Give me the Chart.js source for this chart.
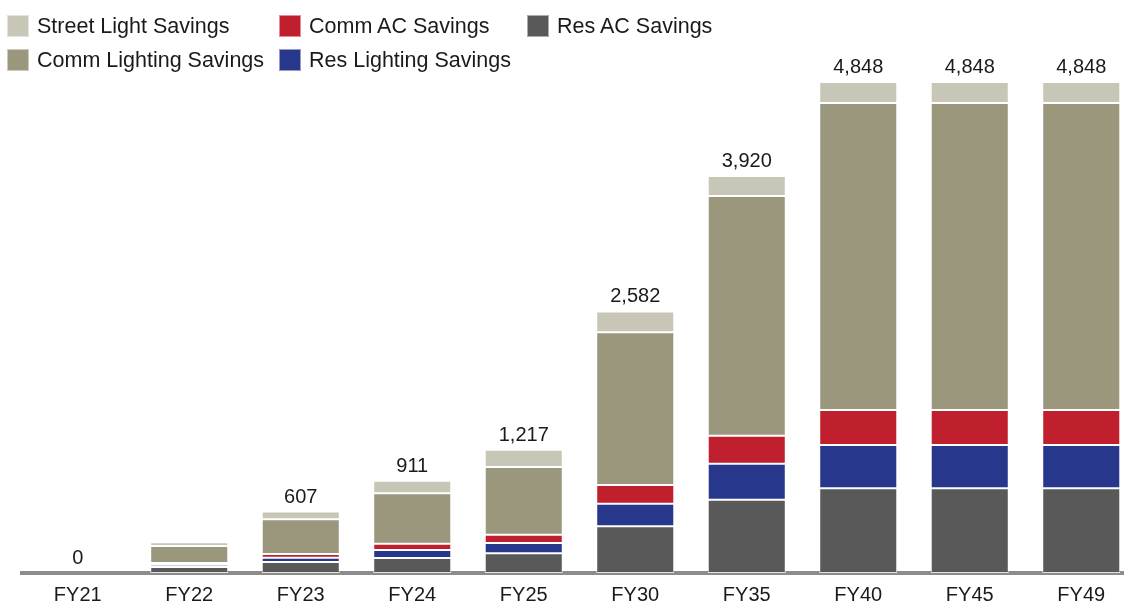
<!DOCTYPE html>
<html>
<head>
<meta charset="utf-8">
<script src="https://cdn.jsdelivr.net/npm/chart.js@4/dist/chart.umd.min.js"></script>
<style>
  html, body { margin: 0; padding: 0; background: #fff; overflow: hidden; }
  #wrap { position: relative; width: 1140px; height: 601px; }
  #legenda {
    position: absolute; left: 7px; top: 15px;
    display: grid; grid-template-columns: 272px 248px auto; row-gap: 12px;
    font: 21.5px "Liberation Sans", Arial, sans-serif; color: #1a1a1a;
  }
  .item { display: flex; align-items: center; height: 22px; white-space: nowrap; }
  .caixa { width: 22px; height: 22px; margin-right: 8px; box-sizing: border-box; border: 1px solid rgba(255,255,255,0.5); }
</style>
</head>
<body>
<div id="wrap">
  <canvas id="savings-chart" width="1140" height="601"></canvas>
  <div id="legenda"></div>
</div>
<script>
// Dados
const categorias = ["FY21", "FY22", "FY23", "FY24", "FY25", "FY30", "FY35", "FY40", "FY45", "FY49"];
const resAc = [0, 59, 109, 148, 194, 461, 724, 836, 836, 836];
const resLighting = [0, 23, 42, 79, 102, 223, 355, 428, 428, 428];
const commAc = [0, 17, 37, 62, 82, 185, 276, 345, 345, 345];
const commLighting = [0, 168, 342, 498, 668, 1507, 2367, 3031, 3031, 3031];
const streetLight = [0, 36, 77, 124, 171, 206, 198, 208, 208, 208];
const totais = [0, null, 607, 911, 1217, 2582, 3920, 4848, 4848, 4848];

const FONTE = '"Liberation Sans", Arial, sans-serif';

// Séries de baixo para cima na pilha
const series = [
  { label: "Res AC Savings", data: resAc, cor: "#595959" },
  { label: "Res Lighting Savings", data: resLighting, cor: "#27378c" },
  { label: "Comm AC Savings", data: commAc, cor: "#c01f2e" },
  { label: "Comm Lighting Savings", data: commLighting, cor: "#9a977d" },
  { label: "Street Light Savings", data: streetLight, cor: "#c8c6b7" },
];

// Ordem da legenda (3 colunas)
const ordemLegenda = ["Street Light Savings", "Comm AC Savings", "Res AC Savings", "Comm Lighting Savings", "Res Lighting Savings"];

// Plugin para escrever o total em cima de cada barra
const pluginTotais = {
  id: "totais",
  afterDatasetsDraw(chart) {
    const ctx = chart.ctx;
    const meta = chart.getDatasetMeta(chart.data.datasets.length - 1);
    ctx.save();
    ctx.font = `20px ${FONTE}`;
    ctx.fillStyle = "#1a1a1a";
    ctx.textAlign = "center";
    ctx.textBaseline = "alphabetic";
    meta.data.forEach((bar, i) => {
      if (totais[i] === null) return;
      ctx.fillText(totais[i].toLocaleString("en-US"), bar.x, bar.y - 9);
    });
    ctx.restore();
  },
};

function montarLegenda(chart) {
  const el = document.getElementById("legenda");
  ordemLegenda.forEach((nome) => {
    const ds = chart.data.datasets.find((d) => d.label === nome);
    const item = document.createElement("div");
    item.className = "item";
    const caixa = document.createElement("span");
    caixa.className = "caixa";
    caixa.style.background = ds.backgroundColor;
    const texto = document.createElement("span");
    texto.textContent = nome;
    item.appendChild(caixa);
    item.appendChild(texto);
    el.appendChild(item);
  });
}

const ctx = document.getElementById("savings-chart").getContext("2d");
const grafico = new Chart(ctx, {
  type: "bar",
  data: {
    labels: categorias,
    datasets: series.map((s) => ({
      label: s.label,
      data: s.data,
      backgroundColor: s.cor,
      borderColor: "rgba(255,255,255,0.75)",
      borderWidth: 1,
      borderSkipped: false,
      barPercentage: 0.7,
      categoryPercentage: 1.0,
    })),
  },
  options: {
    responsive: false,
    animation: false,
    layout: { padding: { top: 26, left: 22, right: 3, bottom: 0 } },
    plugins: {
      legend: { display: false },
      tooltip: { enabled: false },
    },
    scales: {
      x: {
        stacked: true,
        z: 1,
        grid: { display: false },
        border: { display: true, color: "#8c8c8c", width: 4 },
        ticks: { color: "#1a1a1a", font: { family: FONTE, size: 20 }, padding: 2 },
        afterFit: (scale) => { scale.height = 28; },
      },
      y: {
        stacked: true,
        display: false,
        min: 0,
        max: 5400,
      },
    },
  },
  plugins: [pluginTotais],
});

montarLegenda(grafico);
</script>
</body>
</html>
